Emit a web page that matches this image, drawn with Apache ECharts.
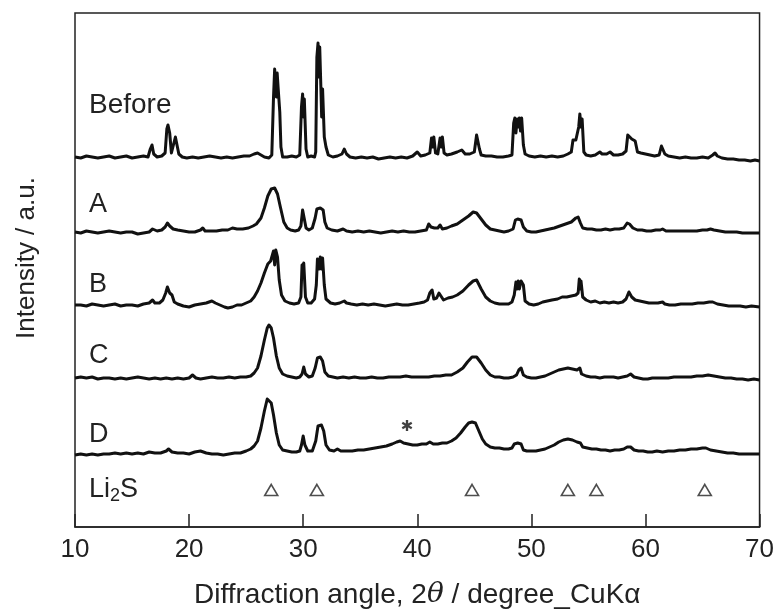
<!DOCTYPE html>
<html>
<head>
<meta charset="utf-8">
<script src="https://cdn.jsdelivr.net/npm/echarts@6/dist/echarts.min.js"></script>
<style>html,body{margin:0;padding:0;background:#fff;}#c{width:777px;height:614px;}</style>
</head>
<body>
<div id="c"></div>
<script>
// ---- data (2θ, relative intensity) ----
const seriesNames = ['Before', 'A', 'B', 'C', 'D'];
const offsets = [370, 295, 222, 149, 74];
const xTicks = [10, 20, 30, 40, 50, 60, 70];
const li2sPeaks = [27.2, 31.2, 44.8, 53.2, 55.7, 65.2];
const asteriskAt = [39.1, 26];

const before = [[10,0],[10.5,-1],[11,1],[11.5,0],[12,-1],[12.5,0],[13,1],[13.5,-1],[14,0],[14.5,1],[15,-1],[15.5,0],[16,1],[16.4,0],[16.6,8],[16.75,12],[16.9,3],[17.2,0],[17.6,1],[17.9,4],[18.05,28],[18.15,32],[18.3,24],[18.45,4],[18.6,6],[18.8,20],[18.95,21],[19.1,3],[19.4,0],[19.8,-1],[20.3,0],[20.8,-1],[21.3,0],[21.8,1],[22.3,0],[22.8,-1],[23.3,0],[23.8,-1],[24.3,0],[24.8,1],[25.3,1],[25.7,3],[26.0,4],[26.3,2],[26.6,0],[27.0,-1],[27.25,2],[27.4,60],[27.5,88],[27.6,86],[27.65,60],[27.72,84],[27.8,70],[27.95,45],[28.05,10],[28.2,0],[28.6,0],[29.0,1],[29.4,0],[29.7,2],[29.85,50],[29.95,63],[30.02,40],[30.1,58],[30.25,8],[30.4,0],[30.7,1],[31.0,0],[31.1,5],[31.2,100],[31.3,114],[31.38,80],[31.45,110],[31.55,70],[31.62,40],[31.7,68],[31.85,20],[32.0,10],[32.2,2],[32.6,0],[33.0,1],[33.4,3],[33.6,8],[33.8,3],[34.1,0],[34.6,-1],[35.1,0],[35.6,-1],[36.1,0],[36.6,-2],[37.1,-1],[37.6,0],[38.1,-1],[38.6,0],[39.1,-1],[39.6,1],[40.0,5],[40.3,1],[40.7,2],[41.1,4],[41.25,19],[41.35,10],[41.45,20],[41.6,4],[41.8,3],[42.0,19],[42.1,10],[42.2,20],[42.35,4],[42.6,2],[43.0,3],[43.5,5],[43.9,7],[44.2,3],[44.6,3],[45.0,5],[45.2,22],[45.3,24],[45.45,8],[45.6,2],[46.0,1],[46.5,1],[47.0,0],[47.5,0],[48.0,1],[48.3,2],[48.45,34],[48.55,39],[48.65,24],[48.75,38],[48.85,30],[48.95,39],[49.05,26],[49.15,39],[49.3,12],[49.45,3],[49.8,1],[50.3,0],[50.8,1],[51.3,0],[51.8,1],[52.3,0],[52.8,1],[53.2,3],[53.5,5],[53.65,17],[53.9,17],[54.15,30],[54.25,43],[54.35,30],[54.45,38],[54.6,5],[54.8,2],[55.2,1],[55.6,2],[56.0,5],[56.2,3],[56.6,3],[56.9,5],[57.2,2],[57.6,2],[58.0,3],[58.3,6],[58.45,22],[58.6,24],[58.8,18],[59.1,16],[59.3,5],[59.6,4],[60.0,3],[60.4,2],[60.8,1],[61.2,2],[61.4,11],[61.55,12],[61.7,3],[62.0,1],[62.5,0],[63.0,-1],[63.5,0],[64.0,-1],[64.5,-1],[65.0,0],[65.5,-1],[65.9,2],[66.1,4],[66.3,1],[66.7,-1],[67.2,-2],[67.7,-2],[68.2,-3],[68.7,-3],[69.2,-4],[69.6,-3],[70,-4]];

const sampleA = [[10,0],[10.5,-1],[11,1],[11.5,0],[12,-1],[12.5,0],[13,1],[13.5,0],[14,-1],[14.5,0],[15,0],[15.5,-2],[16,-1],[16.5,0],[16.8,3],[17.2,1],[17.6,2],[17.9,5],[18.1,9],[18.3,6],[18.6,3],[19.0,2],[19.5,1],[20.0,0],[20.5,0],[21.0,2],[21.2,4],[21.4,1],[21.9,1],[22.4,1],[22.9,2],[23.4,2],[23.8,4],[24.2,3],[24.7,3],[25.2,4],[25.6,6],[25.9,8],[26.3,14],[26.6,24],[26.9,36],[27.2,43],[27.5,44],[27.75,38],[28.0,25],[28.3,10],[28.6,4],[28.9,2],[29.3,1],[29.6,2],[29.8,6],[29.95,22],[30.1,20],[30.25,4],[30.5,2],[30.8,4],[31.05,14],[31.2,23],[31.5,24],[31.75,22],[31.9,10],[32.1,4],[32.5,2],[33.0,1],[33.5,3],[33.8,1],[34.3,0],[34.8,1],[35.3,0],[35.8,1],[36.3,0],[36.8,-1],[37.3,0],[37.8,1],[38.3,0],[38.8,1],[39.3,0],[39.8,0],[40.3,1],[40.8,2],[41.0,8],[41.2,5],[41.5,4],[41.8,4],[42.0,7],[42.2,3],[42.6,4],[43.0,6],[43.5,8],[44.0,12],[44.5,16],[44.9,20],[45.2,19],[45.6,13],[46.0,7],[46.4,3],[46.8,2],[47.2,1],[47.6,0],[48.0,1],[48.4,3],[48.6,12],[48.8,13],[49.1,12],[49.3,5],[49.6,1],[50.0,0],[50.4,0],[50.8,1],[51.2,2],[51.6,3],[52.0,4],[52.5,6],[53.0,8],[53.5,10],[53.9,14],[54.1,15],[54.3,9],[54.5,4],[54.9,3],[55.3,3],[55.7,2],[56.1,2],[56.5,3],[56.9,2],[57.3,3],[57.7,3],[58.1,4],[58.4,9],[58.6,8],[58.9,4],[59.3,2],[59.7,2],[60.1,1],[60.5,1],[60.9,2],[61.3,2],[61.5,3],[61.8,1],[62.2,1],[62.6,1],[63.0,1],[63.5,1],[64.0,1],[64.5,1],[65.0,2],[65.4,2],[65.7,3],[66.0,2],[66.5,1],[67.0,0],[67.5,0],[68.0,0],[68.5,-1],[69.0,-1],[69.5,-1],[70,-1]];

const sampleB = [[10,0],[10.5,0],[11,-1],[11.5,1],[12,0],[12.5,-1],[13,0],[13.5,1],[14,-1],[14.5,0],[15,0],[15.5,-1],[16,1],[16.5,2],[16.8,5],[17.0,2],[17.4,2],[17.7,5],[17.95,12],[18.1,18],[18.3,12],[18.5,10],[18.7,3],[19.0,1],[19.5,-1],[20.0,-2],[20.5,0],[21.0,1],[21.5,2],[22.0,4],[22.3,2],[22.7,0],[23.1,-2],[23.4,-3],[23.8,-2],[24.2,0],[24.6,0],[25.0,2],[25.4,4],[25.7,8],[26.0,14],[26.3,22],[26.6,32],[26.9,41],[27.15,44],[27.3,45],[27.4,54],[27.5,40],[27.6,55],[27.75,48],[27.9,25],[28.1,10],[28.4,4],[28.8,2],[29.2,1],[29.6,2],[29.8,8],[29.9,40],[29.97,28],[30.05,42],[30.2,8],[30.4,2],[30.7,2],[31.0,6],[31.15,20],[31.25,46],[31.38,36],[31.5,48],[31.6,36],[31.7,47],[31.85,20],[32.0,6],[32.4,2],[32.8,1],[33.2,2],[33.6,4],[33.8,2],[34.2,1],[34.7,0],[35.2,1],[35.7,0],[36.2,1],[36.7,0],[37.2,-1],[37.7,0],[38.2,1],[38.7,0],[39.2,0],[39.7,1],[40.2,2],[40.6,3],[40.9,5],[41.1,12],[41.3,15],[41.45,6],[41.7,7],[41.9,12],[42.05,11],[42.3,5],[42.7,7],[43.1,8],[43.5,10],[44.0,14],[44.5,20],[44.9,24],[45.2,25],[45.6,16],[46.0,8],[46.4,4],[46.8,2],[47.2,1],[47.6,1],[48.0,1],[48.3,3],[48.5,10],[48.65,23],[48.75,16],[48.85,24],[48.95,16],[49.1,24],[49.3,20],[49.45,4],[49.8,1],[50.2,0],[50.6,1],[51.0,3],[51.4,4],[51.8,5],[52.3,6],[52.7,8],[53.1,8],[53.5,9],[53.9,10],[54.1,12],[54.2,26],[54.28,16],[54.35,24],[54.5,8],[54.8,5],[55.2,3],[55.6,4],[56.0,2],[56.4,3],[56.8,2],[57.2,3],[57.6,2],[58.0,3],[58.3,6],[58.55,13],[58.8,8],[59.1,5],[59.5,4],[59.9,3],[60.3,2],[60.7,2],[61.1,2],[61.5,3],[61.7,1],[62.1,0],[62.6,0],[63.1,1],[63.6,1],[64.1,1],[64.6,2],[65.1,2],[65.6,3],[65.9,3],[66.3,1],[66.8,0],[67.3,-1],[67.8,-1],[68.3,-1],[68.8,-2],[69.3,-1],[70,-2]];

const sampleC = [[10,0],[10.5,1],[11,0],[11.5,1],[12,-1],[12.5,0],[13,0],[13.5,-1],[14,0],[14.5,-1],[15,0],[15.5,1],[16,0],[16.5,-1],[17,0],[17.5,-1],[18,0],[18.5,-1],[19,0],[19.5,-1],[20,0],[20.3,3],[20.6,0],[21,-1],[21.5,0],[22,1],[22.5,0],[23,0],[23.5,1],[24,0],[24.5,1],[25,1],[25.4,2],[25.7,5],[26.0,10],[26.3,22],[26.6,38],[26.85,50],[27.0,53],[27.2,50],[27.4,40],[27.65,22],[27.9,10],[28.2,4],[28.6,2],[29.0,1],[29.4,0],[29.7,1],[29.9,4],[30.05,11],[30.2,4],[30.5,1],[30.8,2],[31.05,10],[31.25,20],[31.5,21],[31.7,17],[31.9,6],[32.2,2],[32.6,1],[33.0,0],[33.5,1],[34.0,0],[34.5,1],[35.0,0],[35.5,0],[36.0,1],[36.5,0],[37.0,0],[37.5,1],[38.0,1],[38.5,1],[39.0,2],[39.5,1],[40.0,1],[40.5,1],[41.0,1],[41.5,2],[42.0,2],[42.5,3],[43.0,3],[43.5,6],[44.0,10],[44.4,16],[44.8,21],[45.2,21],[45.6,15],[46.0,8],[46.4,3],[46.8,1],[47.2,1],[47.6,0],[48.0,0],[48.4,1],[48.7,3],[48.9,8],[49.1,10],[49.3,3],[49.6,1],[50.0,0],[50.4,0],[50.8,1],[51.2,2],[51.6,4],[52.0,6],[52.4,8],[52.8,9],[53.2,10],[53.6,9],[54.0,8],[54.25,10],[54.4,4],[54.8,2],[55.2,1],[55.6,1],[56.0,0],[56.4,1],[56.8,1],[57.2,1],[57.6,0],[58.0,1],[58.4,2],[58.7,4],[59.0,1],[59.4,0],[59.8,-1],[60.2,-1],[60.6,0],[61.0,0],[61.5,0],[62.0,0],[62.5,1],[63.0,1],[63.5,1],[64.0,1],[64.5,2],[65.0,2],[65.5,3],[66.0,2],[66.5,1],[67.0,0],[67.5,0],[68.0,-1],[68.5,-1],[69.0,-2],[69.5,-1],[70,-2]];

const sampleD = [[10,-2],[10.5,-1],[11,-2],[11.5,-1],[12,-2],[12.5,-1],[13,-1],[13.5,0],[14,-1],[14.5,0],[15,-1],[15.5,0],[16,-1],[16.5,1],[17,0],[17.5,0],[18.0,2],[18.2,4],[18.5,1],[19,0],[19.5,0],[20,-1],[20.5,1],[21,2],[21.5,0],[22,-1],[22.5,-1],[23,-2],[23.5,-1],[24,0],[24.5,0],[25,2],[25.4,4],[25.7,7],[26.0,12],[26.3,25],[26.6,42],[26.85,54],[27.0,55],[27.2,50],[27.4,38],[27.65,20],[27.9,8],[28.2,3],[28.6,2],[29.0,1],[29.4,1],[29.7,2],[29.85,8],[30.0,17],[30.15,8],[30.4,2],[30.8,2],[31.1,12],[31.3,27],[31.6,28],[31.8,22],[32.0,8],[32.3,3],[32.7,2],[33.0,4],[33.3,2],[33.8,2],[34.3,2],[34.8,3],[35.3,3],[35.8,4],[36.3,5],[36.8,6],[37.3,7],[37.8,9],[38.2,11],[38.5,12],[38.8,10],[39.2,9],[39.6,8],[40.0,8],[40.4,9],[40.8,9],[41.1,11],[41.4,9],[41.8,9],[42.2,10],[42.6,10],[43.0,12],[43.4,15],[43.8,20],[44.2,26],[44.5,30],[44.8,31],[45.1,30],[45.4,22],[45.7,14],[46.0,9],[46.4,6],[46.8,5],[47.2,5],[47.6,4],[48.0,4],[48.3,5],[48.5,9],[48.8,10],[49.1,9],[49.3,3],[49.6,2],[50.0,2],[50.4,2],[50.8,3],[51.2,4],[51.6,6],[52.0,8],[52.4,11],[52.8,13],[53.2,14],[53.6,13],[54.0,11],[54.3,10],[54.5,6],[54.9,5],[55.3,4],[55.7,4],[56.1,3],[56.5,3],[56.9,2],[57.3,3],[57.7,3],[58.1,4],[58.4,6],[58.7,6],[59.0,3],[59.4,2],[59.8,2],[60.2,1],[60.6,1],[61.0,2],[61.5,1],[62.0,2],[62.5,2],[63.0,3],[63.5,3],[64.0,4],[64.5,4],[65.0,5],[65.3,5],[65.7,3],[66.2,2],[66.7,1],[67.2,0],[67.7,0],[68.2,-1],[68.7,-1],[69.2,-1],[70,-1]];

const patterns = [before, sampleA, sampleB, sampleC, sampleD];

// ---- chart ----
const FONT = '"Liberation Sans", Arial, Helvetica, sans-serif';
const chart = echarts.init(document.getElementById('c'), null, {renderer: 'canvas'});
const li2sLevel = 37;

const lineSeries = patterns.map((pts, i) => ({
  type: 'line',
  name: seriesNames[i],
  data: pts.map(p => [p[0], p[1] + offsets[i]]),
  showSymbol: false,
  symbol: 'none',
  lineStyle: {color: '#111', width: 3, join: 'round'},
  z: 3
}));

const option = {
  animation: false,
  backgroundColor: '#fff',
  grid: {left: 75, right: 17, top: 13, bottom: 87, show: true, borderColor: '#222', borderWidth: 1.5, backgroundColor: 'transparent'},
  xAxis: {
    type: 'value', min: 10, max: 70, interval: 10,
    axisLine: {show: true, lineStyle: {color: '#222', width: 1.5}},
    axisTick: {show: true, inside: true, length: 13, lineStyle: {color: '#222', width: 1.5}},
    splitLine: {show: false},
    axisLabel: {color: '#222', fontSize: 26, fontFamily: FONT, margin: 10,
      formatter: v => xTicks.indexOf(v) >= 0 ? String(v) : ''},
    name: '{a|Diffraction angle, 2}{b|θ}{a| / degree_CuKα}',
    nameLocation: 'middle', nameGap: 54,
    nameTextStyle: {rich: {
      a: {fontSize: 28, fontFamily: FONT, color: '#222'},
      b: {fontSize: 28, fontFamily: '"DejaVu Serif", "Liberation Serif", serif', fontStyle: 'italic', color: '#222'}
    }}
  },
  yAxis: {
    type: 'value', min: 0, max: 514,
    axisLine: {show: false}, axisTick: {show: false}, axisLabel: {show: false}, splitLine: {show: false}
  },
  series: lineSeries.concat([
    {
      type: 'scatter',
      data: li2sPeaks.map(x => [x, li2sLevel]),
      symbol: 'triangle', symbolSize: [13, 11],
      itemStyle: {color: '#fff', borderColor: '#222', borderWidth: 1.6},
      z: 4
    },
    {
      type: 'scatter',
      data: [[asteriskAt[0], asteriskAt[1] + offsets[4]]],
      symbolSize: 1,
      itemStyle: {color: 'rgba(0,0,0,0)'},
      label: {show: true, position: 'inside', formatter: '✱', fontSize: 15, color: '#111', fontFamily: '"DejaVu Sans", sans-serif'},
      z: 5
    }
  ]),
  graphic: [
    {type: 'text', x: 27, y: 258, rotation: Math.PI / 2, style: {text: 'Intensity / a.u.', fontSize: 26, fontFamily: FONT, fill: '#222', align: 'center', verticalAlign: 'middle'}},
    {type: 'text', x: 89, y: 105, style: {text: 'Before', fontSize: 28, fontFamily: FONT, fill: '#222', verticalAlign: 'middle'}},
    {type: 'text', x: 89, y: 205, style: {text: 'A', fontSize: 27, fontFamily: FONT, fill: '#222', verticalAlign: 'middle'}},
    {type: 'text', x: 89, y: 285, style: {text: 'B', fontSize: 27, fontFamily: FONT, fill: '#222', verticalAlign: 'middle'}},
    {type: 'text', x: 89, y: 356, style: {text: 'C', fontSize: 27, fontFamily: FONT, fill: '#222', verticalAlign: 'middle'}},
    {type: 'text', x: 89, y: 435, style: {text: 'D', fontSize: 27, fontFamily: FONT, fill: '#222', verticalAlign: 'middle'}},
    {type: 'text', x: 89, y: 490, style: {
      text: '{a|Li}{s|2}{a|S}', verticalAlign: 'middle',
      rich: {
        a: {fontSize: 27, fontFamily: FONT, fill: '#222', color: '#222', lineHeight: 30},
        s: {fontSize: 18, fontFamily: FONT, fill: '#222', color: '#222', lineHeight: 18, verticalAlign: 'bottom'}
      }
    }}
  ]
};
chart.setOption(option);
</script>
</body>
</html>
